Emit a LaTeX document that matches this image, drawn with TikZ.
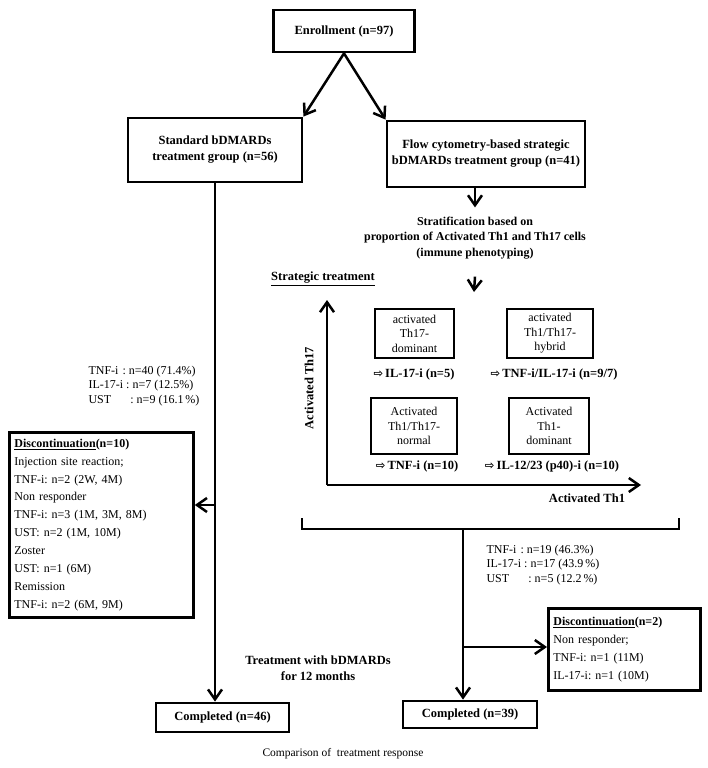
\documentclass[tikz,border=0pt]{standalone}
\usepackage{fontspec}
\setmainfont{Liberation Serif}
\newfontfamily\arrowfont{DejaVu Sans}
\usetikzlibrary{arrows.meta, positioning}
\frenchspacing
\newcommand{\hollowarrow}{{\arrowfont\fontsize{11.5}{11.5}\selectfont ⇨}\,}
\tikzset{
  box/.style={draw, line width=2.8pt, align=center, inner sep=2pt},
  smallbox/.style={draw, line width=2.8pt, align=center, inner sep=2pt, font=\fontsize{12}{14.5}\selectfont},
  boldtext/.style={font=\fontsize{12.5}{16}\selectfont\bfseries},
  plaintext/.style={font=\fontsize{12}{14.5}\selectfont},
  disctext/.style={font=\fontsize{12}{17.9}\selectfont, align=left},
  line/.style={line width=2.5pt},
  arr/.style={line width=2.5pt, -{Straight Barb[length=10pt,width=14pt]}}
}

\begin{document}
\begin{tikzpicture}[x=1pt, y=-1pt]
\useasboundingbox (0,0) rectangle (708,768);

\node[box, boldtext, minimum width=141, minimum height=42] (enroll) at (344,31) {Enrollment (n=97)};
\node[box, boldtext, minimum width=174, minimum height=64] (std) at (215,150) {Standard bDMARDs\\treatment group (n=56)};
\node[box, boldtext, minimum width=198, minimum height=66] (flow) at (486,154) {Flow cytometry-based strategic\\bDMARDs treatment group (n=41)};
\draw[arr] (enroll.south) -- (std.north east);
\draw[arr] (enroll.south) -- (flow.north west);

\node[boldtext, font=\fontsize{12}{15.5}\selectfont\bfseries, align=center] (strat) at (475,238) {Stratification based on\\proportion of Activated Th1 and Th17 cells\\(immune phenotyping)};
\draw[arr, shorten >=6pt] (flow.south -| strat) -- (strat.north);
\coordinate (quad) at (474,292);
\draw[arr] ([yshift=-14pt]strat.south) -- (quad);
\node[boldtext] (strat-tr) at (323,279) {\underline{Strategic treatment}};

\coordinate (origin) at (327,485);
\coordinate (ytop) at (327,300);
\coordinate (xend) at (641,485);
\draw[arr] (origin) -- (ytop);
\draw[arr] (origin) -- (xend);
\node[boldtext, rotate=90] (ylab) at (309,388) {Activated Th17};
\node[boldtext] (xlab) at (587,498) {Activated Th1};

\node[smallbox, minimum width=79, minimum height=49] (th17) at (414.5,333.5) {activated\\Th17-\\dominant};
\node[smallbox, minimum width=86, minimum height=49] (hyb) at (550,333.5) {activated\\Th1/Th17-\\hybrid};
\node[smallbox, minimum width=86, minimum height=56] (norm) at (414,426) {Activated\\Th1/Th17-\\normal};
\node[smallbox, minimum width=80, minimum height=56] (th1) at (549,426) {Activated\\Th1-\\dominant};
\node[boldtext] (th17-tx) at (414,374) {\hollowarrow IL-17-i (n=5)};
\node[boldtext] (hyb-tx) at (554,374) {\hollowarrow TNF-i/IL-17-i (n=9/7)};
\node[boldtext] (norm-tx) at (417,466) {\hollowarrow TNF-i (n=10)};
\node[boldtext] (th1-tx) at (552,466) {\hollowarrow IL-12/23 (p40)-i (n=10)};

\node[box, boldtext, minimum width=133, minimum height=29] (comp46) at (222.5,717.5) {Completed (n=46)};
\node[box, boldtext, minimum width=134, minimum height=27] (comp39) at (470,714.5) {Completed (n=39)};

\node[box, disctext, anchor=north west, minimum width=184, minimum height=185, text width=174pt, inner sep=4pt] (disc1) at (8,431) {\textbf{\underline{Discontinuation}(n=10)}\\Injection site reaction;\\TNF-i: n=2 (2W, 4M)\\Non responder\\TNF-i: n=3 (1M, 3M, 8M)\\UST: n=2 (1M, 10M)\\Zoster\\UST: n=1 (6M)\\Remission\\TNF-i: n=2 (6M, 9M)};
\node[box, disctext, anchor=north west, minimum width=152, minimum height=82, text width=142pt, inner sep=4pt] (disc2) at (547,607) {\textbf{\underline{Discontinuation}(n=2)}\\Non responder;\\TNF-i: n=1 (11M)\\IL-17-i: n=1 (10M)};

\draw[arr] (std.south) -- (std.south |- comp46.north);
\coordinate (lsplit) at (215,505);
\draw[arr] (lsplit) -- (lsplit -| disc1.east);
\node[plaintext, anchor=west, align=left] (left-n) at (85,386) {TNF-i\,\,: n=40 (71.4\%)\\IL-17-i : n=7 (12.5\%)\\UST\hspace{1.6em}: n=9 (16.1\,\%)};

\coordinate (brl) at (302,518);
\coordinate (brr) at (679,518);
\coordinate (brm) at (463,529);
\draw[line] (brl) -- (brl |- brm) -- (brr |- brm) -- (brr);
\draw[arr] (brm) -- (brm |- comp39.north);
\coordinate (rsplit) at (463,647);
\draw[arr] (rsplit) -- (rsplit -| disc2.west);
\node[plaintext, anchor=west, align=left] (right-n) at (483,565) {TNF-i\,\,: n=19 (46.3\%)\\IL-17-i : n=17 (43.9\,\%)\\UST\hspace{1.6em}: n=5 (12.2\,\%)};

\node[boldtext, align=center] (months) at (318,668) {Treatment with bDMARDs\\for 12 months};
\node[font=\fontsize{11.5}{14}\selectfont] (compare) at (343,754) {Comparison of \ treatment response};

\end{tikzpicture}
\end{document}
